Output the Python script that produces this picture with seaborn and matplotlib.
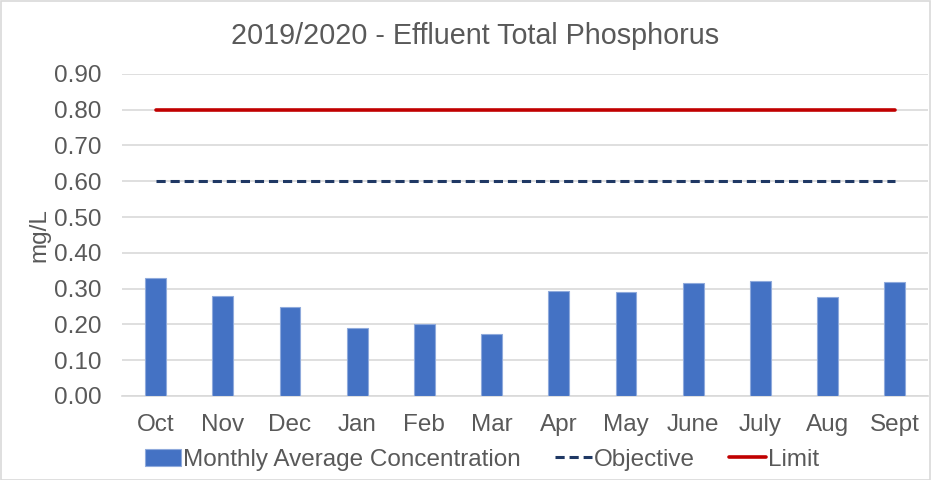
import numpy as np
import pandas as pd
import matplotlib
matplotlib.use("Agg")
import matplotlib.pyplot as plt
import seaborn as sns
from matplotlib.patches import Rectangle

months = ["Oct", "Nov", "Dec", "Jan", "Feb", "Mar", "Apr", "May", "June", "July", "Aug", "Sept"]
monthly_avg = [0.330, 0.280, 0.249, 0.189, 0.200, 0.173, 0.294, 0.290, 0.317, 0.322, 0.278, 0.319]
objective = [0.60] * 12
limit = [0.80] * 12
yticks = [0.0, 0.1, 0.2, 0.3, 0.4, 0.5, 0.6, 0.7, 0.8, 0.9]

df = pd.DataFrame({"month": months, "avg": monthly_avg,
                   "objective": objective, "limit": limit, "pos": range(len(months))})

sns.set_style("white")
plt.rcParams["font.family"] = ["Liberation Sans", "DejaVu Sans"]
txt = "#595959"

fig = plt.figure(figsize=(9.32, 4.8), dpi=100)
ax = fig.add_axes([0.131, 0.175, 0.865, 0.671])

sns.barplot(data=df, x="month", y="avg", color="#4472C4", saturation=1, width=0.31,
            edgecolor="#8FAADC", linewidth=0.8, ax=ax, label="Monthly Average Concentration", zorder=3)
sns.lineplot(data=df, x="pos", y="objective", color="#1F3864", linestyle=(0, (3, 1.6)),
             linewidth=2.2, ax=ax, label="Objective", zorder=4)
sns.lineplot(data=df, x="pos", y="limit", color="#C00000", linewidth=2.6, ax=ax, label="Limit", zorder=4)

ax.set_xlim(-0.5, len(months) - 0.5)
ax.set_ylim(0, 0.9)
ax.set_yticks(yticks)
ax.set_yticklabels([f"{v:.2f}" for v in yticks])
ax.set_xticks(range(len(months)))
ax.set_xticklabels(months)
ax.tick_params(axis="both", labelsize=17.5, colors=txt, length=0)
ax.tick_params(axis="y", pad=15)
ax.tick_params(axis="x", pad=13)
ax.yaxis.grid(True, color="#D9D9D9", linewidth=1.2)
ax.set_axisbelow(True)
for s in ["top", "right", "left"]:
    ax.spines[s].set_visible(False)
ax.spines["bottom"].set_color("#D9D9D9")
ax.spines["bottom"].set_linewidth(1.2)
ax.set_xlabel("")
ax.set_ylabel("mg/L", fontsize=17.5, color=txt, labelpad=2)

ax.legend_.remove()
handles, labels = ax.get_legend_handles_labels()
order = [labels.index(n) for n in ["Monthly Average Concentration", "Objective", "Limit"]]
fig.legend([handles[i] for i in order], [labels[i] for i in order], loc="center",
           bbox_to_anchor=(0.517, 0.042), ncol=3, frameon=False,
           fontsize=17.5, labelcolor=txt, handlelength=1.5, handletextpad=0.1, columnspacing=1.4)

fig.suptitle("2019/2020 - Effluent Total Phosphorus", x=0.51, y=0.955, fontsize=20.7, color=txt)

fig.patches.append(Rectangle((0.001, 0.001), 0.997, 0.997, transform=fig.transFigure,
                             fill=False, edgecolor="#D9D9D9", linewidth=1.2))

fig.savefig("out.png", dpi=100)
